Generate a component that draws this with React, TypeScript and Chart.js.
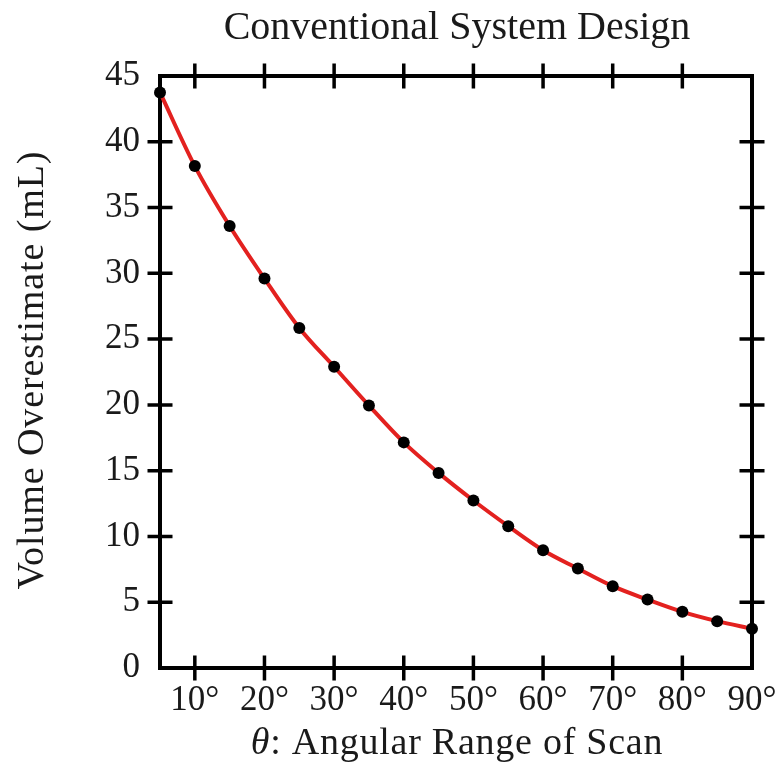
import React, { useEffect, useRef } from "react";
import { Chart, registerables } from "chart.js";

Chart.register(...registerables);

const ANGLES = [5, 10, 15, 20, 25, 30, 35, 40, 45, 50, 55, 60, 65, 70, 75, 80, 85, 90];
const VOLUME = [43.75, 38.15, 33.6, 29.6, 25.85, 22.9, 19.95, 17.15, 14.83, 12.73, 10.78, 8.95, 7.56, 6.22, 5.2, 4.27, 3.56, 2.98];
const X_TICKS = [10, 20, 30, 40, 50, 60, 70, 80, 90];
const Y_TICKS = [0, 5, 10, 15, 20, 25, 30, 35, 40, 45];
const TITLE = "Conventional System Design";
const X_TITLE_SYMBOL = "θ";
const X_TITLE_REST = ": Angular Range of Scan";
const Y_TITLE = "Volume Overestimate (mL)";

const FONT = "'Liberation Serif', 'Times New Roman', serif";

const framePlugin = {
  id: "frame",
  beforeDatasetsDraw(chart: any) {
    const { ctx, chartArea } = chart;
    const xs = chart.scales.x;
    const ys = chart.scales.y;
    const { left, right, top, bottom } = chartArea;
    ctx.save();
    ctx.strokeStyle = "#000";
    ctx.lineWidth = 3.5;
    ctx.lineCap = "butt";
    const half = 12.5;
    X_TICKS.forEach((v) => {
      const px = xs.getPixelForValue(v);
      if (px <= left + 2 || px >= right - 2) return;
      ctx.beginPath();
      ctx.moveTo(px, top - half);
      ctx.lineTo(px, top + half);
      ctx.moveTo(px, bottom - half);
      ctx.lineTo(px, bottom + half);
      ctx.stroke();
    });
    Y_TICKS.forEach((v) => {
      const py = ys.getPixelForValue(v);
      if (py <= top + 2 || py >= bottom - 2) return;
      ctx.beginPath();
      ctx.moveTo(left - half, py);
      ctx.lineTo(left + half, py);
      ctx.moveTo(right - half, py);
      ctx.lineTo(right + half, py);
      ctx.stroke();
    });
    ctx.lineWidth = 4;
    ctx.lineJoin = "miter";
    ctx.strokeRect(left, top, right - left, bottom - top);
    ctx.restore();
  },
  afterDraw(chart: any) {
    const { ctx, chartArea } = chart;
    const cx = (chartArea.left + chartArea.right) / 2;
    const cy = (chartArea.top + chartArea.bottom) / 2;
    ctx.save();
    ctx.fillStyle = "#1a1a1a";
    ctx.textBaseline = "alphabetic";
    // main title
    ctx.font = `40px ${FONT}`;
    (ctx as any).letterSpacing = "0px";
    ctx.textAlign = "center";
    ctx.fillText(TITLE, cx + 1, 39);
    // x title
    (ctx as any).letterSpacing = "0.75px";
    ctx.textAlign = "left";
    ctx.font = `italic 38px ${FONT}`;
    const w1 = ctx.measureText(X_TITLE_SYMBOL).width;
    ctx.font = `38px ${FONT}`;
    const w2 = ctx.measureText(X_TITLE_REST).width;
    const startX = cx + 1 - (w1 + w2) / 2;
    ctx.font = `italic 38px ${FONT}`;
    ctx.fillText(X_TITLE_SYMBOL, startX, 754);
    ctx.font = `38px ${FONT}`;
    ctx.fillText(X_TITLE_REST, startX + w1, 754);
    // y title
    (ctx as any).letterSpacing = "0.9px";
    ctx.translate(43, cy - 2);
    ctx.rotate(-Math.PI / 2);
    ctx.textAlign = "center";
    ctx.fillText(Y_TITLE, 0, 0);
    ctx.restore();
  },
};

export default function App() {
  const ref = useRef<HTMLCanvasElement | null>(null);
  useEffect(() => {
    if (!ref.current) return;
    const chart = new Chart(ref.current, {
      type: "line",
      data: {
        datasets: [
          {
            data: ANGLES.map((a, i) => ({ x: a, y: VOLUME[i] })),
            borderColor: "#e3211f",
            borderWidth: 4,
            pointBackgroundColor: "#000",
            pointBorderColor: "#000",
            pointRadius: 6,
            pointBorderWidth: 0,
            cubicInterpolationMode: "monotone",
            clip: false as any,
          },
        ],
      },
      options: {
        animation: false,
        responsive: true,
        maintainAspectRatio: false,
        layout: { padding: { top: 76, right: 31, bottom: 0, left: 0 } },
        plugins: { legend: { display: false }, tooltip: { enabled: false }, title: { display: false } },
        scales: {
          x: {
            type: "linear",
            min: 5,
            max: 90,
            grid: { display: false, drawTicks: false },
            border: { display: false },
            afterBuildTicks: (s: any) => {
              s.ticks = X_TICKS.map((v) => ({ value: v }));
            },
            afterFit: (s: any) => {
              s.height = 100;
              s.paddingRight = 0;
              s.paddingLeft = 0;
            },
            ticks: {
              autoSkip: false,
              maxRotation: 0,
              padding: 12,
              color: "#1a1a1a",
              font: { family: FONT, size: 35 },
              callback: (v: any) => `${v}°`,
            },
          },
          y: {
            type: "linear",
            min: 0,
            max: 45,
            grid: { display: false, drawTicks: false },
            border: { display: false },
            afterBuildTicks: (s: any) => {
              s.ticks = Y_TICKS.map((v) => ({ value: v }));
            },
            afterFit: (s: any) => {
              s.width = 160;
              s.paddingTop = 0;
              s.paddingBottom = 0;
            },
            ticks: {
              autoSkip: false,
              padding: 20,
              color: "#1a1a1a",
              font: { family: FONT, size: 35 },
            },
          },
        },
      },
      plugins: [framePlugin],
    });
    return () => chart.destroy();
  }, []);
  return (
    <div style={{ position: "absolute", left: 0, top: 0, width: 783, height: 768, background: "#fff" }}>
      <canvas ref={ref} />
    </div>
  );
}
